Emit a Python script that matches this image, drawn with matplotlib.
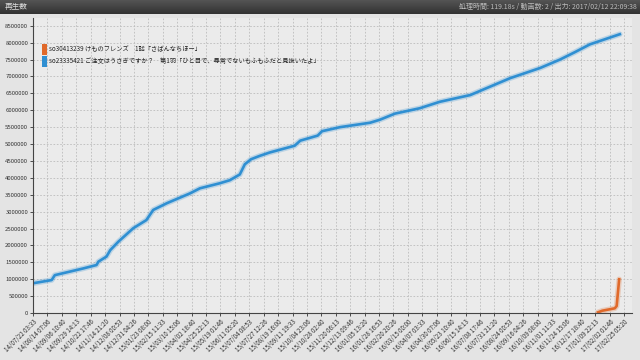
import pandas as pd
import numpy as np
import matplotlib
matplotlib.use("Agg")
import matplotlib.pyplot as plt
from matplotlib.patches import Patch

plt.rcParams['font.family'] = ['Noto Sans CJK JP', 'DejaVu Sans']

# data (x = days since first tick)
start = pd.Timestamp("2014-07-22 03:33:00")

blue_name = "so23335421 ご注文はうさぎですか？　第1羽「ひと目で、尋常でないもふもふだと見抜いたよ」"
blue_days = [0, 30, 35, 81, 102, 105, 118, 124, 137, 161, 182, 193, 215, 252, 268,
             300, 316, 332, 340, 350, 364, 380, 404, 420, 429, 457, 464, 493, 541,
             557, 581, 621, 653, 702, 734, 766, 814, 846, 870, 894, 918, 942]
blue_views = [880000, 975000, 1120000, 1320000, 1420000, 1520000, 1670000, 1860000,
              2110000, 2510000, 2750000, 3050000, 3250000, 3540000, 3690000, 3840000,
              3930000, 4100000, 4400000, 4550000, 4650000, 4750000, 4870000, 4950000,
              5100000, 5250000, 5380000, 5500000, 5630000, 5720000, 5900000, 6060000,
              6250000, 6450000, 6700000, 6950000, 7250000, 7500000, 7720000, 7950000,
              8100000, 8250000]

orange_name = "so30413239 けものフレンズ　1話「さばんなちほー」"
orange_days = [907, 914, 934, 937, 941]
orange_views = [20000, 68000, 139000, 207000, 997000]

tick_labels = ["14/07/22 03:33", "14/08/14 07:06", "14/09/06 10:40", "14/09/29 14:13",
               "14/10/22 17:46", "14/11/14 21:20", "14/12/08 00:53", "14/12/31 04:26",
               "15/01/23 08:00", "15/02/15 11:33", "15/03/10 15:06", "15/04/02 18:40",
               "15/04/25 22:13", "15/05/19 01:46", "15/06/11 05:20", "15/07/04 08:53",
               "15/07/27 12:26", "15/08/19 16:00", "15/09/11 19:33", "15/10/04 23:06",
               "15/10/28 02:40", "15/11/20 06:13", "15/12/13 09:46", "16/01/05 13:20",
               "16/01/28 16:53", "16/02/20 20:26", "16/03/15 00:00", "16/04/07 03:33",
               "16/04/30 07:06", "16/05/23 10:40", "16/06/15 14:13", "16/07/08 17:46",
               "16/07/31 21:20", "16/08/24 00:53", "16/09/16 04:26", "16/10/09 08:00",
               "16/11/01 11:33", "16/11/24 15:06", "16/12/17 18:40", "17/01/09 22:13",
               "17/02/02 01:46", "17/02/25 05:20"]

header_title = "再生数"
header_info = "処理時間: 119.18s / 動画数: 2 / 出力: 2017/02/12 22:09:38"

blue = "#2f8fd2"
orange = "#e0692a"

def to_dates(days):
    return start + pd.to_timedelta(days, unit="D")

fig = plt.figure(figsize=(6.4, 3.6), dpi=100)
fig.patch.set_facecolor("#e4e4e4")

# header bar
hdr = fig.add_axes([0, 1 - 14 / 360, 1, 14 / 360])
hdr.imshow(np.linspace(0.2, 0.33, 20).reshape(-1, 1)[::-1], cmap="gray", vmin=0, vmax=1,
           aspect="auto", extent=[0, 1, 0, 1])
hdr.set_axis_off()
hdr.text(0.008, 0.5, header_title, color="#dddddd", fontsize=5.5, va="center", ha="left")
hdr.text(0.995, 0.5, header_info, color="#bbbbbb", fontsize=5, va="center", ha="right")

ax = fig.add_axes([33 / 640, 1 - 313 / 360, 599 / 640, (313 - 18) / 360])
ax.set_facecolor("#ebebeb")

tick_pos = [pd.to_datetime(t, format="%y/%m/%d %H:%M") for t in tick_labels]
ax.set_xticks(tick_pos)
ax.set_xticklabels(tick_labels, rotation=45, ha="right", rotation_mode="anchor",
                   fontsize=4.5, color="#333333")
ax.set_xlim(tick_pos[0], to_dates(961.6))
ax.set_ylim(0, 8730000)
ax.set_yticks(np.arange(0, 8500001, 500000))
ax.set_yticklabels([str(v) for v in range(0, 8500001, 500000)], fontsize=4.3, color="#333333")
ax.tick_params(length=2, width=0.6, pad=1.5, colors="#333333")
ax.grid(True, color="#bcbcbc", linestyle=(0, (2, 2)), linewidth=0.6)
for s in ["top", "right"]:
    ax.spines[s].set_visible(False)
for s in ["left", "bottom"]:
    ax.spines[s].set_color("#444444")
    ax.spines[s].set_linewidth(0.8)

for days, views, c in [(blue_days, blue_views, blue), (orange_days, orange_views, orange)]:
    d = to_dates(days)
    ax.plot(d, views, color=c, linewidth=4, alpha=0.25, solid_capstyle="round")
    ax.plot(d, views, color=c, linewidth=1.9, solid_joinstyle="round")

handles = [Patch(facecolor=orange, edgecolor="none"), Patch(facecolor=blue, edgecolor="none")]
leg = ax.legend(handles, [orange_name, blue_name], loc="upper left",
                bbox_to_anchor=(0.006, 0.93), fontsize=4.5, frameon=False,
                handlelength=0.7, handleheight=2.3, handletextpad=0.4, labelspacing=0.15)
for t in leg.get_texts():
    t.set_color("#222222")

fig.savefig("out.png", dpi=100, facecolor=fig.get_facecolor())
